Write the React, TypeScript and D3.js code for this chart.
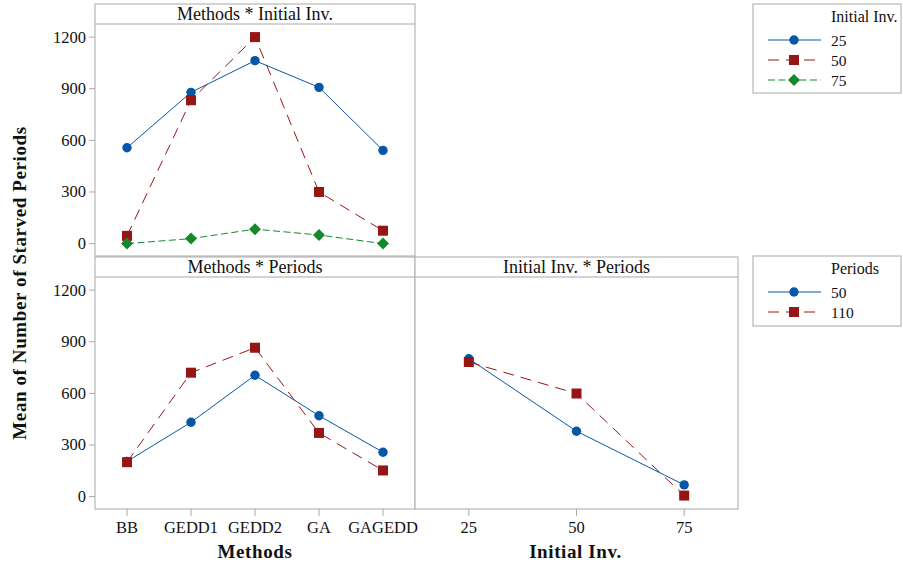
import React from "react";
import * as d3 from "d3";

// Factor levels
const methods = ["BB", "GEDD1", "GEDD2", "GA", "GAGEDD"];
const initialInvLevels = ["25", "50", "75"];
const periodLevels = ["50", "110"];
const yTicks = [0, 300, 600, 900, 1200];

// Methods * Initial Inv. means (one array per Initial Inv. level)
const methodsInv25 = [557, 879, 1063, 908, 542];
const methodsInv50 = [45, 833, 1200, 300, 75];
const methodsInv75 = [0, 29, 84, 50, 0];

// Methods * Periods means
const methodsPer50 = [204, 432, 705, 470, 258];
const methodsPer110 = [200, 720, 865, 370, 152];

// Initial Inv. * Periods means
const invPer50 = [801, 380, 68];
const invPer110 = [782, 599, 6];

const BLUE = "#0757a8";
const RED = "#961616";
const GREEN = "#14892c";
const FRAME = "#a8a8a8";
const FONT = "'Liberation Serif', 'Times New Roman', serif";

type SeriesStyle = { color: string; dash?: string; marker: "circle" | "square" | "diamond" };

const invStyles: SeriesStyle[] = [
  { color: BLUE, marker: "circle" },
  { color: RED, dash: "11,7", marker: "square" },
  { color: GREEN, dash: "7,3.5", marker: "diamond" },
];
const perStyles: SeriesStyle[] = [
  { color: BLUE, marker: "circle" },
  { color: RED, dash: "11,7", marker: "square" },
];

function Marker({ x, y, s }: { x: number; y: number; s: SeriesStyle }) {
  if (s.marker === "circle") return <circle cx={x} cy={y} r={4.7} fill={s.color} />;
  if (s.marker === "square")
    return <rect x={x - 5} y={y - 5} width={10} height={10} fill={s.color} />;
  const d = 6;
  return (
    <path d={`M${x},${y - d}L${x + d},${y}L${x},${y + d}L${x - d},${y}Z`} fill={s.color} />
  );
}

function Series({
  cats,
  values,
  x,
  y,
  s,
}: {
  cats: string[];
  values: number[];
  x: d3.ScalePoint<string>;
  y: d3.ScaleLinear<number, number>;
  s: SeriesStyle;
}) {
  const line = d3
    .line<number>()
    .x((_, i) => x(cats[i])!)
    .y((v) => y(v));
  return (
    <g>
      <path d={line(values)!} fill="none" stroke={s.color} strokeWidth={1} strokeDasharray={s.dash} />
      {values.map((v, i) => (
        <Marker key={i} x={x(cats[i])!} y={y(v)} s={s} />
      ))}
    </g>
  );
}

function Panel({
  x0,
  x1,
  top,
  stripH,
  bottom,
  title,
}: {
  x0: number;
  x1: number;
  top: number;
  stripH: number;
  bottom: number;
  title: string;
}) {
  return (
    <g>
      <rect x={x0} y={top} width={x1 - x0} height={bottom - top} fill="white" stroke={FRAME} strokeWidth={1} />
      <line x1={x0} x2={x1} y1={top + stripH} y2={top + stripH} stroke={FRAME} />
      <text
        x={(x0 + x1) / 2}
        y={top + stripH / 2 + 6}
        textAnchor="middle"
        fontSize={18}
        fontFamily={FONT}
        fill="#111"
      >
        {title}
      </text>
    </g>
  );
}

function YAxis({ x, y }: { x: number; y: d3.ScaleLinear<number, number> }) {
  return (
    <g>
      {yTicks.map((t) => (
        <g key={t}>
          <line x1={x - 6} x2={x} y1={y(t)} y2={y(t)} stroke={FRAME} />
          <text x={x - 9} y={y(t) + 5.5} textAnchor="end" fontSize={16.5} fontFamily={FONT} fill="#111">
            {t}
          </text>
        </g>
      ))}
    </g>
  );
}

function XAxis({ cats, x, y0 }: { cats: string[]; x: d3.ScalePoint<string>; y0: number }) {
  return (
    <g>
      {cats.map((c) => (
        <g key={c}>
          <line x1={x(c)!} x2={x(c)!} y1={y0} y2={y0 + 7} stroke={FRAME} />
          <text x={x(c)!} y={y0 + 24} textAnchor="middle" fontSize={16.5} fontFamily={FONT} fill="#111">
            {c}
          </text>
        </g>
      ))}
    </g>
  );
}

function Legend({
  x,
  y,
  w,
  h,
  title,
  labels,
  styles,
}: {
  x: number;
  y: number;
  w: number;
  h: number;
  title: string;
  labels: string[];
  styles: SeriesStyle[];
}) {
  return (
    <g>
      <rect x={x} y={y} width={w} height={h} fill="white" stroke={FRAME} />
      <text x={x + 78} y={y + 18} fontSize={16} fontFamily={FONT} fill="#111">
        {title}
      </text>
      {labels.map((l, i) => {
        const ry = y + 36 + i * 20;
        const s = styles[i];
        return (
          <g key={l}>
            <line x1={x + 15} x2={x + 68} y1={ry} y2={ry} stroke={s.color} strokeWidth={1} strokeDasharray={s.dash} />
            <Marker x={x + 41} y={ry} s={s} />
            <text x={x + 78} y={ry + 5.5} fontSize={15.5} fontFamily={FONT} fill="#111">
              {l}
            </text>
          </g>
        );
      })}
    </g>
  );
}

export default function App() {
  const W = 903;
  const H = 564;
  const left = 95;
  const mid = 415;
  const right = 738;
  const stripH = 20;

  const topPanelTop = 4;
  const topPanelBottom = 256;
  const botPanelTop = 257;
  const botPanelBottom = 509;

  const yDomain: [number, number] = [-72, 1276];
  const yTop = d3
    .scaleLinear()
    .domain(yDomain)
    .range([topPanelBottom, topPanelTop + stripH]);
  const yBot = d3
    .scaleLinear()
    .domain(yDomain)
    .range([botPanelBottom, botPanelTop + stripH]);

  const xMethods = d3.scalePoint<string>().domain(methods).range([left, mid]).padding(0.5);
  const xInv = d3.scalePoint<string>().domain(initialInvLevels).range([mid, right]).padding(0.5);

  const titleStyle = {
    fontSize: 19,
    fontWeight: "bold" as const,
    fontFamily: FONT,
    letterSpacing: 0.6,
  };

  return (
    <svg
      width={W}
      height={H}
      style={{ position: "absolute", left: 0, top: 0, background: "white" }}
    >
      <rect width={W} height={H} fill="white" />

      {/* Methods * Initial Inv. */}
      <Panel x0={left} x1={mid} top={topPanelTop} stripH={stripH} bottom={topPanelBottom} title="Methods * Initial Inv." />
      <YAxis x={left} y={yTop} />
      {[methodsInv25, methodsInv50, methodsInv75].map((vals, i) => (
        <Series key={i} cats={methods} values={vals} x={xMethods} y={yTop} s={invStyles[i]} />
      ))}

      {/* Methods * Periods */}
      <Panel x0={left} x1={mid} top={botPanelTop} stripH={stripH} bottom={botPanelBottom} title="Methods * Periods" />
      <YAxis x={left} y={yBot} />
      {[methodsPer50, methodsPer110].map((vals, i) => (
        <Series key={i} cats={methods} values={vals} x={xMethods} y={yBot} s={perStyles[i]} />
      ))}
      <XAxis cats={methods} x={xMethods} y0={botPanelBottom} />

      {/* Initial Inv. * Periods */}
      <Panel x0={mid} x1={right} top={botPanelTop} stripH={stripH} bottom={botPanelBottom} title="Initial Inv. * Periods" />
      {[invPer50, invPer110].map((vals, i) => (
        <Series key={i} cats={initialInvLevels} values={vals} x={xInv} y={yBot} s={perStyles[i]} />
      ))}
      <XAxis cats={initialInvLevels} x={xInv} y0={botPanelBottom} />

      {/* Axis titles */}
      <text transform="translate(26,283) rotate(-90)" textAnchor="middle" fill="#111" style={titleStyle}>
        Mean of Number of Starved Periods
      </text>
      <text x={(left + mid) / 2} y={558} textAnchor="middle" fill="#111" style={titleStyle}>
        Methods
      </text>
      <text x={(mid + right) / 2 - 1} y={558} textAnchor="middle" fill="#111" style={titleStyle}>
        Initial Inv.
      </text>

      {/* Legends */}
      <Legend x={753} y={4} w={148} h={89} title="Initial Inv." labels={initialInvLevels} styles={invStyles} />
      <Legend x={753} y={256} w={148} h={70} title="Periods" labels={periodLevels} styles={perStyles} />
    </svg>
  );
}
